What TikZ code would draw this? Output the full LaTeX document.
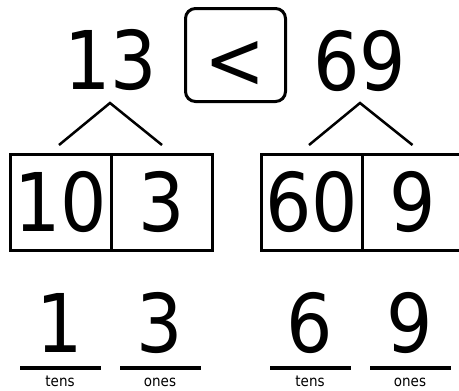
\documentclass[tikz,border=0pt]{standalone}
\usepackage{fontspec}
\usetikzlibrary{positioning}
\newfontfamily\digitfont{DejaVu Sans Condensed}
\newcommand\bignum{\digitfont\fontsize{81}{81}\selectfont}
\newcommand\placefont{\digitfont\fontsize{15}{15}\selectfont}

\begin{document}
\begin{tikzpicture}[
    x=1pt, y=-1pt,
    num/.style={font=\bignum, inner sep=0pt, anchor=base},
    cell/.style={draw, line width=3pt, minimum width=101pt, minimum height=96pt, inner sep=0pt, font=\bignum},
    cmpbox/.style={draw, line width=3pt, rounded corners=10pt, minimum width=100pt, minimum height=93pt, inner sep=0pt, font=\bignum},
    tree/.style={line width=2.5pt},
    blank/.style={fill=black, minimum width=81pt, minimum height=4pt, inner sep=0pt},
    place/.style={font=\placefont, inner sep=0pt, anchor=base}
]
    \useasboundingbox (0,0) rectangle (459,391);
    \clip (0,0) rectangle (459,391);

    % the two numbers and the comparison sign
    \node[num] (n13) at (111,89) {13};
    \node[cmpbox] (lt) at (235.5,55) {\raisebox{-33pt}[0pt][0pt]{<}};
    \node[num] (n69) at (360,90) {69};

    % expanded form
    \node[cell] (tenL) at (61,202.5) {10};
    \node[cell] (oneL) at (162,202.5) {3};
    \node[cell] (tenR) at (311.5,202.5) {60};
    \node[cell] (oneR) at (412.5,202.5) {9};

    \coordinate (a13) at (110,103);
    \coordinate (a69) at (360,103);
    \coordinate (tl) at ([xshift=-2pt,yshift=8pt]tenL.north);
    \coordinate (ol) at ([yshift=8pt]oneL.north);
    \coordinate (tr) at ([xshift=-2.5pt,yshift=8pt]tenR.north);
    \coordinate (or) at ([yshift=8pt]oneR.north);
    \draw[tree] (tl) -- (a13) -- (ol);
    \draw[tree] (tr) -- (a69) -- (or);

    % place values
    \node[num] (d1) at (60,352) {1};
    \node[num] (d3) at (160,352) {3};
    \node[num] (d6) at (310,352) {6};
    \node[num] (d9) at (410,352) {9};

    \node[blank] (u1) at (60.5,368) {};
    \node[blank] (u3) at (160.5,368) {};
    \node[blank] (u6) at (310.5,368) {};
    \node[blank] (u9) at (410.5,368) {};

    \node[place] (p1) at (60,386) {tens};
    \node[place] (p3) at (160,386) {ones};
    \node[place] (p6) at (310,386) {tens};
    \node[place] (p9) at (410,386) {ones};
\end{tikzpicture}
\end{document}
